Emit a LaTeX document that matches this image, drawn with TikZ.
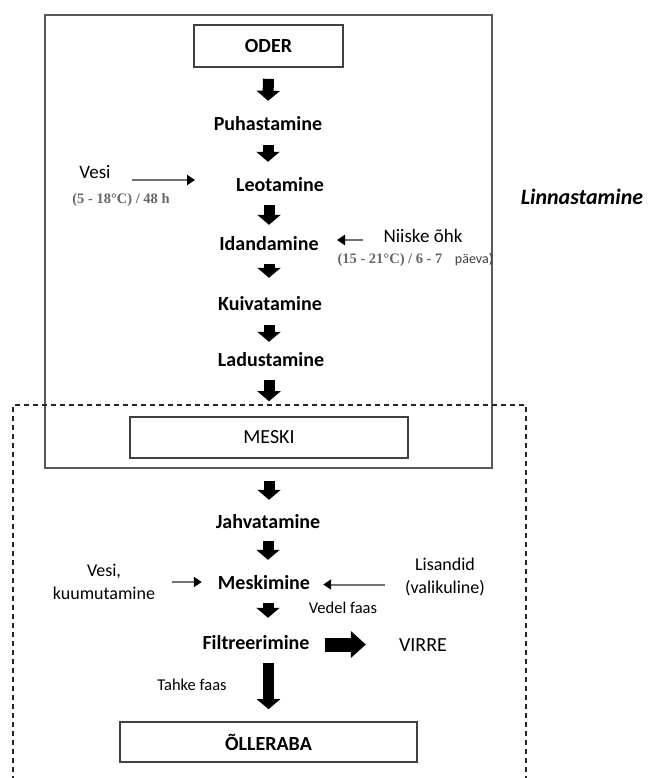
\documentclass[tikz,border=0pt]{standalone}
\usepackage{fontspec}
\setmainfont{Carlito}
\newfontfamily\tempfont{Liberation Serif}
\usepackage{tikz}
\usetikzlibrary{arrows.meta}
\tikzset{
  stepnode/.style = {font=\fontsize{20}{24}\selectfont\bfseries, text height=14pt, text depth=4pt, inner xsep=2pt, inner ysep=9pt},
  boxnode/.style = {draw=black!75, line width=1.6pt, inner sep=0pt, font=\fontsize{20}{24}\selectfont},
  sidetext/.style = {font=\fontsize{19}{23}\selectfont, inner sep=2pt, align=center},
  smalltext/.style = {font=\fontsize{16.5}{20}\selectfont, inner sep=2pt},
  temptext/.style = {font=\tempfont\bfseries\fontsize{14.5}{17}\selectfont, text=black!60, inner sep=0pt},
  blockarrow/.style = {line width=11pt, -{Triangle[length=10pt,width=23pt]}},
  bigarrow/.style = {line width=14pt, -{Triangle[length=15pt,width=26pt]}},
  sidearrow/.style = {draw=black!55, line width=2pt, -{Triangle[length=8pt,width=10pt,black]}}
}
\begin{document}
\begin{tikzpicture}[x=1pt,y=-1pt]
  \useasboundingbox (0,0) rectangle (648,778);
  \draw[black!65, line width=1.5pt] (45,15) rectangle (492,468);
  \draw[black!85, line width=1.8pt, dash pattern=on 5pt off 4pt] (13,790) -- (13,405) -- (526,405) -- (526,790);

  \node[boxnode, font=\fontsize{20}{24}\selectfont\bfseries, minimum width=149pt, minimum height=42pt] (oder) at (268.5,46) {ODER};
  \node[stepnode] (puh) at (268,125.5) {Puhastamine};
  \node[stepnode] (leo) at (280,186.5) {Leotamine};
  \node[stepnode] (ida) at (269,245.5) {Idandamine};
  \node[stepnode] (kui) at (270,305) {Kuivatamine};
  \node[stepnode] (lad) at (271,361.5) {Ladustamine};
  \node[boxnode, minimum width=278pt, minimum height=41pt] (meski) at (269,437.5) {MESKI};
  \node[stepnode] (jah) at (268,523) {Jahvatamine};
  \node[stepnode] (mesk) at (264,584.5) {Meskimine};
  \node[stepnode] (filt) at (256,644.5) {Filtreerimine};
  \node[boxnode, font=\fontsize{20}{24}\selectfont\bfseries, minimum width=297pt, minimum height=40pt] (olle) at (268.5,742) {ÕLLERABA};

  \node[font=\fontsize{22}{26}\selectfont\bfseries\itshape] (linn) at (582,197) {Linnastamine};

  \node[sidetext] (vesi) at (95,172) {Vesi};
  \node[temptext] (temp1) at (121,200) {(5 - 18°C) / 48 h};
  \coordinate (vesiin) at (195,180);
  \node[sidetext] (niiske) at (423,236) {Niiske õhk};
  \node[temptext] (temp2) at (390,260) {(15 - 21°C) / 6 - 7};
  \node[font=\fontsize{14}{17}\selectfont, text=black!75, inner sep=0pt] (paeva) at (474,260) {päeva)};
  \coordinate (idain) at (337,240);

  \node[sidetext, font=\fontsize{18}{23}\selectfont] (kuum) at (104,582) {Vesi,\\kuumutamine};
  \node[sidetext, font=\fontsize{18}{23}\selectfont] (lis) at (445,577) {Lisandid\\(valikuline)};
  \node[smalltext] (vedel) at (343,608) {Vedel faas};
  \node[sidetext, font=\fontsize{20}{24}\selectfont] (virre) at (423,645) {VIRRE};
  \node[smalltext] (tahke) at (192,685) {Tahke faas};

  \draw[blockarrow, shorten <=11pt, shorten >=6.5pt] (oder.south) -- (puh.north);
  \draw[blockarrow, shorten <=1.5pt, shorten >=6.5pt] (puh.south) -- (puh.south |- leo.north);
  \draw[blockarrow, shorten <=0.5pt, shorten >=2.5pt] (leo.south -| ida) -- (ida.north);
  \draw[blockarrow, shorten <=0pt, shorten >=9pt] (ida.south) -- (ida.south |- kui.north);
  \draw[blockarrow, shorten <=2pt, shorten >=1.5pt] (kui.south -| ida) -- (ida |- lad.north);
  \draw[blockarrow, shorten <=0.5pt, shorten >=15pt] (lad.south -| meski) -- (meski.north);
  \draw[blockarrow, shorten <=22pt, shorten >=5pt] (meski.south) -- (meski.south |- jah.north);
  \draw[blockarrow, shorten <=0pt, shorten >=6.5pt] (jah.south) -- (jah.south |- mesk.north);
  \draw[blockarrow, shorten <=0.5pt, shorten >=8.5pt] (mesk.south -| jah) -- (jah |- filt.north);
  \draw[blockarrow, shorten <=0pt, shorten >=12pt] (filt.south -| olle) -- (olle.north);
  \draw[bigarrow, shorten <=13pt, shorten >=31pt] (filt.east) -- (filt.east -| virre.west);

  \draw[sidearrow, shorten <=19pt] (vesi.east |- vesiin) -- (vesiin);
  \draw[sidearrow, shorten <=18pt] (niiske.west |- idain) -- (idain);
  \draw[sidearrow, shorten <=15pt, shorten >=14pt] (kuum.east) -- (kuum.east -| mesk.west);
  \draw[sidearrow, shorten <=18pt, shorten >=11pt] (lis.west |- mesk) -- (mesk.east);
\end{tikzpicture}
\end{document}
